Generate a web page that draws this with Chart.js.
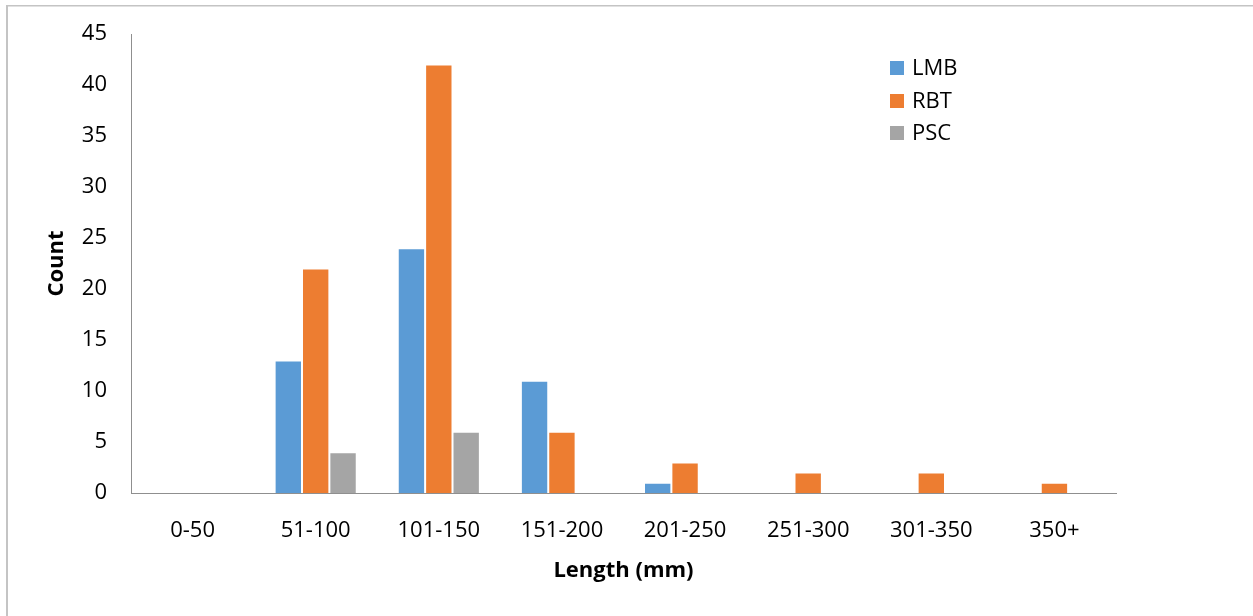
<!DOCTYPE html>
<html>
<head>
<meta charset="utf-8">
<script src="https://cdn.jsdelivr.net/npm/chart.js@4/dist/chart.umd.min.js"></script>
<style>
  html, body { margin: 0; padding: 0; background: #fff; }
  #c { display: block; }
</style>
</head>
<body>
<canvas id="c" width="1253" height="616"></canvas>
<script>
// Length classes (mm)
const categories = ['0-50', '51-100', '101-150', '151-200', '201-250', '251-300', '301-350', '350+'];

// Fish counts per length class
const lmbCounts = [0, 13, 24, 11, 1, 0, 0, 0];
const rbtCounts = [0, 22, 42, 6, 3, 2, 2, 1];
const pscCounts = [0, 4, 6, 0, 0, 0, 0, 0];

const seriesNames = ['LMB', 'RBT', 'PSC'];
const seriesColors = ['#5B9BD5', '#ED7D31', '#A5A5A5'];

const yTickMax = 45;
const yTickStep = 5;

const FONT = "'Open Sans', 'Liberation Sans', sans-serif";

// Outer frame lines along the left and top edges
const framePlugin = {
  id: 'frame',
  beforeDraw(chart) {
    const ctx = chart.ctx;
    ctx.save();
    ctx.fillStyle = '#fff';
    ctx.fillRect(0, 0, chart.width, chart.height);
    ctx.fillStyle = '#c4c4c4';
    ctx.fillRect(6, 5, 2, chart.height - 5);
    ctx.fillRect(6, 5, chart.width - 6, 1.5);
    ctx.restore();
  }
};

// Legend drawn inside the plot area at the upper right
const insideLegend = {
  id: 'insideLegend',
  afterDraw(chart) {
    const ctx = chart.ctx;
    const rows = [68, 101, 133];
    ctx.save();
    ctx.font = '22px ' + FONT;
    ctx.textBaseline = 'middle';
    ctx.textAlign = 'left';
    chart.data.datasets.forEach((ds, i) => {
      const y = rows[i];
      ctx.fillStyle = ds.backgroundColor;
      ctx.fillRect(890, y - 7, 14, 14);
      ctx.fillStyle = '#000';
      ctx.fillText(ds.label, 912, y + 1);
    });
    ctx.restore();
  }
};

const seriesData = [lmbCounts, rbtCounts, pscCounts];

new Chart(document.getElementById('c'), {
  type: 'bar',
  data: {
    labels: categories,
    datasets: seriesData.map((vals, i) => ({
      label: seriesNames[i],
      data: vals,
      backgroundColor: seriesColors[i],
      borderColor: 'rgba(255,255,255,0.3)',
      borderWidth: (c) => (c.raw ? 1 : 0),
      categoryPercentage: 0.667,
      barPercentage: 1.0
    }))
  },
  options: {
    responsive: false,
    animation: false,
    devicePixelRatio: 1,
    layout: { padding: { top: 34, right: 137, left: 0, bottom: 0 } },
    plugins: {
      legend: { display: false },
      tooltip: { enabled: false }
    },
    scales: {
      x: {
        grid: { display: false, drawTicks: false },
        border: { display: true, color: '#8f8f8f', width: 1 },
        ticks: {
          color: '#000',
          padding: 25,
          font: { family: FONT, size: 22 }
        },
        title: {
          display: true,
          text: 'Length (mm)',
          color: '#000',
          padding: { top: 0, bottom: 32 },
          font: { family: FONT, size: 22, weight: 'bold' }
        },
        afterFit(scale) { scale.height = 123; scale.paddingLeft = 0; scale.paddingRight = 0; }
      },
      y: {
        min: 0,
        max: yTickMax,
        grid: { display: false, drawTicks: false },
        border: { display: true, color: '#8f8f8f', width: 1 },
        ticks: {
          stepSize: yTickStep,
          color: '#000',
          padding: 24,
          font: { family: FONT, size: 22 }
        },
        title: {
          display: true,
          text: 'Count',
          color: '#000',
          padding: { top: 44, bottom: 0 },
          font: { family: FONT, size: 22, weight: 'bold' }
        },
        afterFit(scale) { scale.width = 131; scale.paddingTop = 0; scale.paddingBottom = 0; }
      }
    }
  },
  plugins: [framePlugin, insideLegend]
});
</script>
</body>
</html>
